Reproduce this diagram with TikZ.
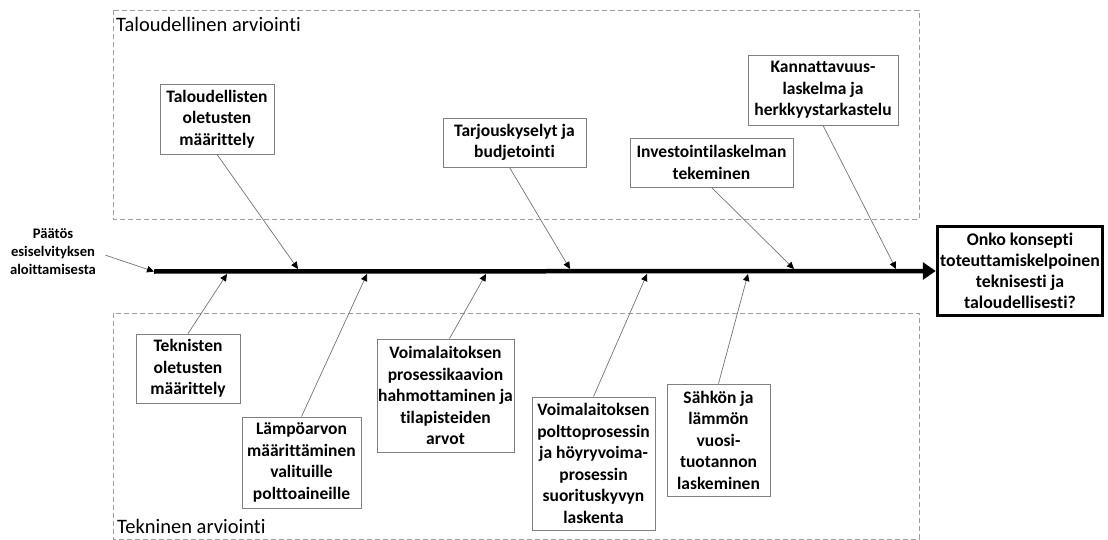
\documentclass[tikz,border=0pt]{standalone}
\usepackage{fontspec}
\setmainfont{Carlito}[Ligatures=NoCommon]
\usetikzlibrary{arrows.meta}
\begin{document}
\begin{tikzpicture}[x=1pt,y=-1pt,
  area/.style={draw=black!38,dashed,dash pattern=on 5pt off 3pt,line width=0.8pt},
  areatitle/.style={anchor=base west,inner sep=0pt,font=\fontsize{20.5}{24}\selectfont},
  stepbox/.style={draw=black!50,line width=0.8pt,fill=white,align=center,inner sep=0pt,
    font=\bfseries\fontsize{17.5}{21.5}\selectfont},
  goalbox/.style={draw=black,line width=3.5pt,align=center,inner sep=0pt,
    minimum width=165pt,minimum height=89pt,
    font=\bfseries\fontsize{17.8}{20.8}\selectfont},
  feed/.style={draw=black!55,line width=0.7pt,-{Triangle[length=7pt,width=6.5pt,color=black,fill=black]}},
  spine/.style={line width=4.5pt,-{Triangle[length=13pt,width=17pt]}}
]
\useasboundingbox (0,0) rectangle (1108,540);

% the two assessment areas
\draw[area] (113,10) rectangle (919,219);
\draw[area] (113,313) rectangle (919,539);
\node[areatitle] (ttop) at (116,32) {Taloudellinen arviointi};
\node[areatitle] (tbot) at (117,533) {Tekninen arviointi};

% start label and goal
\node[align=center,inner sep=0pt,font=\bfseries\fontsize{14.6}{18}\selectfont] (start) at (53,252)
  {Päätös\\esiselvityksen\\aloittamisesta};
\node[goalbox] (goal) at (1020,271) {Onko konsepti\\toteuttamiskelpoinen\\teknisesti ja\\taloudellisesti?};

% main timeline
\coordinate (s0) at (154,271.5);
\draw[spine] (s0) -- (goal.west);
\draw[feed,shorten <=10pt] (start.east) -- (s0);

% economic steps (above the line)
\node[stepbox,minimum width=114pt,minimum height=70pt] (e1) at (217,119) {Taloudellisten\\oletusten\\määrittely};
\node[stepbox,minimum width=143pt,minimum height=49pt] (e2) at (514.5,142.5) {Tarjouskyselyt ja\\budjetointi};
\node[stepbox,minimum width=163pt,minimum height=49pt] (e3) at (711.5,162.5) {Investointilaskelman\\tekeminen};
\node[stepbox,minimum width=150pt,minimum height=70pt] (e4) at (823,90) {Kannattavuus-\\laskelma ja\\herkkyystarkastelu};

% technical steps (below the line)
\node[stepbox,minimum width=104pt,minimum height=69pt] (t1) at (188,368.5) {Teknisten\\oletusten\\määrittely};
\node[stepbox,minimum width=119pt,minimum height=91pt] (t2) at (301.5,462.5) {Lämpöarvon\\määrittäminen\\valituille\\polttoaineille};
\node[stepbox,minimum width=137pt,minimum height=113pt] (t3) at (445.5,395.5) {Voimalaitoksen\\prosessikaavion\\hahmottaminen ja\\tilapisteiden\\arvot};
\node[stepbox,minimum width=123pt,minimum height=133pt] (t4) at (593.5,463.5) {Voimalaitoksen\\polttoprosessin\\ja höyryvoima-\\prosessin\\suorituskyvyn\\laskenta};
\node[stepbox,minimum width=103pt,minimum height=112pt] (t5) at (718.5,440) {Sähkön ja\\lämmön\\vuosi-\\tuotannon\\laskeminen};

% where the steps join the timeline
\coordinate (pe1) at (298,269);
\coordinate (pe2) at (570,269);
\coordinate (pe3) at (794,269);
\coordinate (pe4) at (896,269);
\coordinate (pt1) at (227,274);
\coordinate (pt2) at (367,274);
\coordinate (pt3) at (486,274);
\coordinate (pt4) at (647,274);
\coordinate (pt5) at (748,274);

\draw[feed] (e1.south) -- (pe1);
\draw[feed] ([xshift=-5pt]e2.south) -- (pe2);
\draw[feed] (e3.south) -- (pe3);
\draw[feed] (e4.south) -- (pe4);
\draw[feed] (t1.north) -- (pt1);
\draw[feed] (t2.north) -- (pt2);
\draw[feed] ([xshift=4pt]t3.north) -- (pt3);
\draw[feed] (t4.north) -- (pt4);
\draw[feed] (t5.north) -- (pt5);
\end{tikzpicture}
\end{document}
